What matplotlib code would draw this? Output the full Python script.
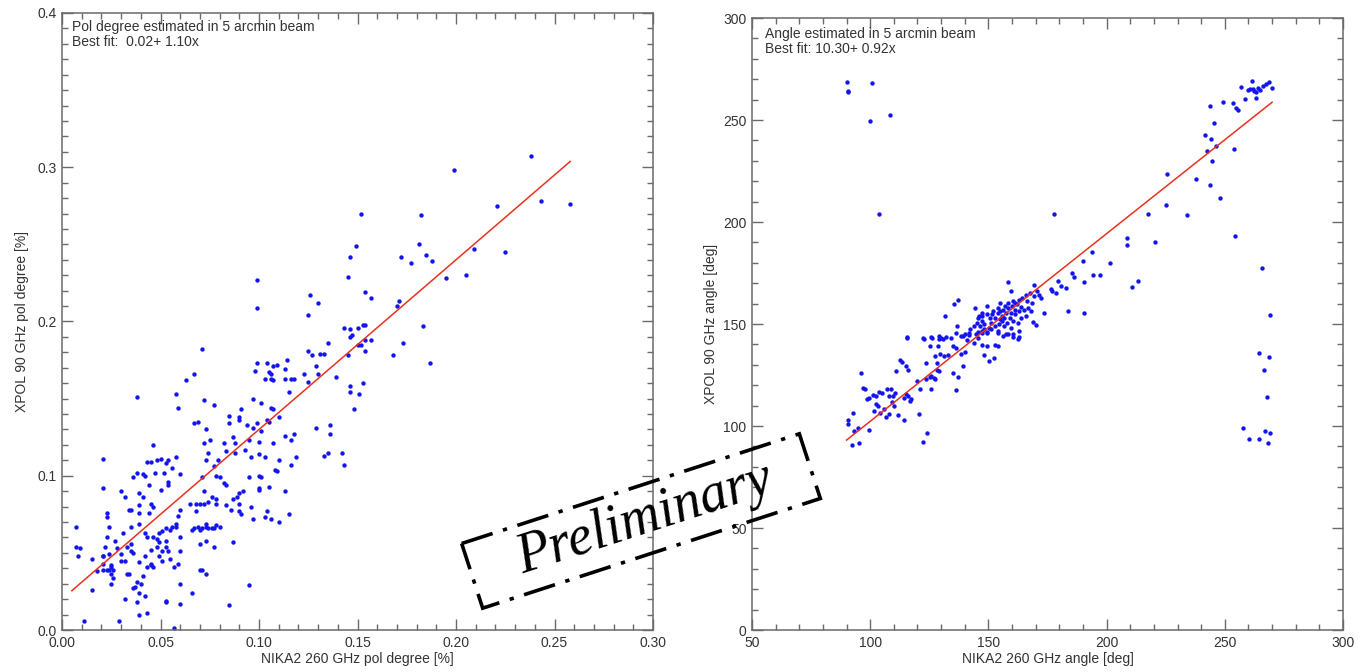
import matplotlib
matplotlib.use("Agg")
import matplotlib.pyplot as plt
from matplotlib.ticker import MultipleLocator, FormatStrFormatter
from matplotlib.patches import Polygon
import numpy as np

plt.rcParams['font.family'] = ['Liberation Sans', 'DejaVu Sans']

# polarisation degree: (NIKA2 260 GHz, XPOL 90 GHz)
pol_points = [
    (.238, .307), (.199, .298), (.243, .278), (.258, .276), (.221, .275), (.152, .270),
    (.182, .269), (.225, .245), (.209, .247), (.181, .250), (.149, .249), (.185, .243),
    (.188, .239), (.172, .242), (.177, .238), (.146, .242), (.195, .228), (.205, .230),
    (.099, .227), (.145, .229), (.126, .217), (.130, .212), (.125, .204), (.099, .209),
    (.154, .219), (.157, .215), (.171, .213), (.170, .210), (.154, .198), (.153, .198),
    (.183, .197), (.143, .196), (.146, .195), (.150, .196), (.146, .190), (.154, .188),
    (.147, .191), (.150, .185), (.157, .188), (.154, .181), (.173, .186), (.168, .178),
    (.187, .173), (.071, .182), (.099, .173), (.098, .168), (.104, .173), (.107, .171),
    (.109, .172), (.105, .167), (.106, .166), (.106, .163), (.103, .163), (.107, .162),
    (.113, .169), (.114, .175), (.113, .163), (.116, .163), (.118, .163), (.123, .166),
    (.125, .181), (.127, .178), (.131, .179), (.133, .179), (.135, .186), (.129, .171),
    (.130, .166), (.125, .161), (.139, .164), (.145, .178), (.152, .185), (.146, .158),
    (.146, .154), (.153, .160), (.151, .153), (.148, .143), (.067, .166), (.063, .162),
    (.058, .153), (.059, .144), (.038, .151), (.115, .154), (.097, .150), (.101, .147),
    (.106, .144), (.107, .143), (.072, .149), (.077, .146), (.091, .143), (.090, .138),
    (.085, .139), (.085, .134), (.090, .136), (.094, .133), (.099, .134), (.097, .131),
    (.101, .129), (.104, .136), (.105, .135), (.110, .138), (.129, .131), (.136, .133),
    (.136, .127), (.118, .127), (.116, .123), (.113, .126), (.067, .134), (.069, .135),
    (.073, .130), (.075, .123), (.082, .121), (.088, .121), (.087, .125), (.095, .123),
    (.100, .122), (.107, .121), (.133, .113), (.135, .115), (.142, .115), (.143, .107),
    (.119, .112), (.116, .107), (.110, .110), (.103, .112), (.100, .114), (.096, .112),
    (.093, .117), (.088, .115), (.083, .116), (.079, .110), (.073, .110), (.074, .115),
    (.072, .121), (.046, .120), (.043, .109), (.045, .109), (.048, .110), (.050, .111),
    (.053, .108), (.054, .110), (.058, .112), (.056, .105), (.052, .102), (.054, .096),
    (.054, .094), (.060, .101), (.047, .102), (.041, .101), (.042, .100), (.038, .102),
    (.044, .094), (.050, .091), (.036, .099), (.039, .089), (.039, .081), (.039, .076),
    (.045, .082), (.044, .076), (.046, .080), (.021, .111), (.021, .092), (.030, .090),
    (.032, .086), (.035, .078), (.041, .086), (.071, .099), (.078, .100), (.080, .099),
    (.082, .095), (.083, .094), (.077, .106), (.072, .090), (.076, .086), (.078, .085),
    (.074, .083), (.078, .082), (.083, .081), (.089, .086), (.090, .089), (.092, .090),
    (.095, .099), (.100, .100), (.101, .099), (.100, .092), (.100, .091), (.105, .093),
    (.108, .104), (.109, .103), (.113, .090), (.115, .075), (.104, .077), (.103, .073),
    (.106, .072), (.110, .070), (.097, .072), (.090, .077), (.091, .075), (.090, .082),
    (.086, .078), (.087, .085), (.096, .080), (.072, .082), (.070, .082), (.068, .082),
    (.065, .082), (.068, .077), (.066, .065), (.067, .066), (.069, .067), (.070, .065),
    (.071, .066), (.073, .067), (.073, .069), (.074, .066), (.076, .066), (.078, .068),
    (.080, .067), (.077, .054), (.070, .056), (.060, .078), (.059, .074), (.058, .069),
    (.058, .067), (.060, .060), (.056, .067), (.055, .065), (.053, .066), (.051, .064),
    (.053, .058), (.053, .054), (.054, .051), (.051, .051), (.048, .059), (.049, .057),
    (.046, .060), (.049, .063), (.042, .063), (.043, .060), (.039, .069), (.035, .067),
    (.034, .078), (.035, .056), (.036, .050), (.033, .054), (.031, .063), (.030, .049),
    (.028, .053), (.024, .049), (.027, .058), (.023, .060), (.022, .054), (.023, .073),
    (.023, .076), (.024, .067), (.021, .048), (.021, .039), (.024, .039), (.025, .041),
    (.026, .039), (.026, .034), (.025, .036), (.025, .030), (.025, .042), (.023, .039),
    (.018, .038), (.021, .043), (.030, .045), (.032, .045), (.033, .036), (.034, .036),
    (.035, .051), (.039, .044), (.042, .048), (.041, .035), (.038, .031), (.036, .027),
    (.037, .028), (.039, .024), (.042, .022), (.040, .030), (.043, .041), (.045, .052),
    (.045, .043), (.045, .042), (.046, .041), (.048, .054), (.049, .048), (.051, .045),
    (.055, .046), (.057, .041), (.060, .051), (.059, .043), (.060, .030), (.060, .017),
    (.053, .018), (.053, .019), (.057, .001), (.032, .020), (.038, .018), (.029, .006),
    (.011, .006), (.015, .026), (.008, .048), (.009, .053), (.007, .054), (.007, .067),
    (.015, .046), (.021, .048), (.039, .010), (.043, .011), (.066, .024), (.070, .039),
    (.071, .039), (.073, .036), (.085, .016), (.095, .029), (.087, .057), (.077, .066),
    (.073, .058),
]

# polarisation angle in deg: (NIKA2 260 GHz, XPOL 90 GHz)
angle_points = [
    (90.1, 268.7), (90.4, 263.5), (90.8, 264.1), (100.7, 268.3), (99.8, 249.4),
    (108.3, 252.3), (103.9, 203.9), (177.9, 203.9), (225.7, 223.5), (225.2, 208.1),
    (217.6, 203.9), (234.2, 203.4), (237.9, 221.3), (243.9, 218.3), (247.8, 212.0),
    (253.9, 235.9), (254.2, 192.9), (241.7, 242.7), (244.1, 240.7), (242.3, 234.7),
    (244.5, 229.9), (245.4, 248.5), (246.3, 237.5), (243.8, 256.8), (249.3, 258.8),
    (253.3, 258.3), (254.6, 256.0), (255.5, 255.0), (257.0, 266.2), (258.5, 260.2),
    (259.7, 264.8), (261.6, 269.0), (260.7, 265.4), (262.3, 264.3), (263.2, 261.0),
    (264.2, 265.6), (265.1, 264.8), (266.0, 266.7), (267.6, 267.5), (268.8, 268.7),
    (269.9, 265.9), (261.8, 265.1), (263.2, 263.5), (208.5, 192.0), (208.5, 188.8),
    (220.4, 190.4), (213.4, 170.9), (210.7, 168.2), (201.5, 179.9), (193.9, 185.2),
    (189.9, 180.7), (194.1, 174.2), (197.4, 174.2), (190.6, 170.5), (185.5, 175.0),
    (186.4, 172.9), (183.6, 156.3), (190.3, 155.5), (173.7, 155.2), (169.5, 169.3),
    (168.9, 151.0), (170.0, 149.4), (178.7, 165.3), (180.5, 168.8), (179.6, 170.9),
    (176.5, 167.4), (176.8, 166.1), (182.9, 167.7), (171.3, 164.4), (172.2, 162.8),
    (168.6, 160.4), (166.2, 161.2), (164.0, 158.3), (162.1, 159.6), (158.1, 170.5),
    (159.4, 166.1), (160.3, 161.2), (158.5, 160.4), (154.8, 160.4), (153.9, 158.0),
    (152.0, 156.3), (149.3, 158.8), (147.4, 155.5), (146.0, 153.9), (144.5, 158.0),
    (145.6, 153.1), (147.4, 151.5), (148.3, 149.8), (151.1, 150.6), (152.9, 153.1),
    (155.7, 153.9), (157.5, 155.5), (159.0, 153.1), (161.2, 154.7), (163.1, 156.3),
    (164.9, 157.1), (166.7, 158.0), (168.0, 156.3), (165.8, 153.9), (162.5, 150.6),
    (159.4, 148.2), (156.6, 149.0), (153.9, 146.6), (151.1, 147.4), (149.3, 145.8),
    (147.1, 146.6), (144.7, 145.0), (141.9, 145.8), (137.3, 162.0), (135.5, 159.6),
    (131.6, 153.9), (136.9, 149.0), (134.2, 143.3), (130.9, 142.5), (129.0, 142.5),
    (126.1, 143.3), (122.6, 142.5), (115.6, 143.0), (163.1, 146.6), (162.7, 142.5),
    (160.3, 145.0), (157.5, 145.0), (115.6, 143.6), (122.2, 143.1), (125.9, 143.6),
    (129.0, 144.2), (130.0, 143.1), (132.0, 143.6), (136.4, 145.5), (139.2, 143.9),
    (141.9, 144.7), (145.6, 146.3), (147.4, 145.5), (149.3, 146.3), (154.0, 145.5),
    (156.3, 143.9), (160.3, 143.6), (163.1, 143.6), (158.5, 145.2), (143.8, 140.7),
    (147.4, 139.8), (149.3, 139.0), (145.6, 143.1), (141.0, 142.3), (152.9, 139.8),
    (154.0, 139.3), (150.4, 131.7), (152.4, 133.3), (148.3, 135.0), (125.4, 139.3),
    (128.5, 139.0), (131.4, 134.1), (129.6, 135.4), (127.2, 134.1), (123.5, 130.9),
    (128.1, 130.9), (132.7, 135.0), (134.9, 139.0), (136.4, 138.2), (138.2, 135.4),
    (140.1, 136.1), (139.2, 129.3), (134.9, 126.0), (137.3, 123.9), (136.4, 117.6),
    (125.9, 124.4), (126.8, 123.6), (127.6, 123.1), (125.4, 124.1), (123.5, 122.8),
    (128.1, 127.6), (129.0, 126.8), (119.9, 122.0), (121.0, 117.9), (116.2, 127.3),
    (115.3, 129.6), (113.6, 131.2), (112.5, 132.2), (111.0, 126.8), (116.2, 114.6),
    (116.9, 112.2), (114.3, 113.5), (115.1, 115.8), (117.3, 113.0), (110.3, 116.3),
    (109.7, 114.6), (109.4, 111.7), (110.1, 109.8), (107.0, 118.2), (108.8, 117.9),
    (104.8, 116.3), (103.7, 116.9), (102.4, 114.6), (101.1, 115.4), (99.6, 113.8),
    (98.7, 113.0), (97.8, 117.9), (96.0, 126.0), (96.9, 118.7), (102.4, 110.6),
    (103.3, 109.8), (106.6, 104.6), (107.9, 105.7), (111.6, 105.2), (114.3, 102.9),
    (105.9, 108.5), (107.9, 114.6), (104.2, 106.5), (101.5, 107.3), (92.6, 106.5),
    (90.4, 102.8), (90.8, 100.8), (93.2, 97.6), (94.7, 98.9), (99.6, 98.0),
    (92.3, 90.6), (95.4, 91.9), (124.1, 96.4), (122.2, 92.2), (120.8, 105.7),
    (125.9, 118.2), (264.3, 135.8), (268.8, 133.8), (266.4, 127.6), (267.8, 114.1),
    (257.9, 99.2), (260.3, 93.5), (264.3, 93.5), (266.9, 97.6), (268.4, 91.9),
    (269.1, 96.7), (265.6, 177.4), (269.1, 154.2),
    (147.4, 153.9), (149.6, 154.7), (150.7, 153.1), (151.5, 154.7), (153.9, 155.5),
    (155.1, 156.3), (156.3, 157.1), (157.0, 158.8), (158.5, 158.0), (159.9, 158.8),
    (161.2, 160.4), (163.1, 162.0), (164.3, 162.8), (165.8, 164.4), (167.6, 165.3),
    (169.1, 163.6), (170.4, 166.1), (164.0, 153.1), (160.3, 151.5), (157.9, 150.6),
    (155.7, 151.5), (154.4, 149.8), (152.6, 149.0), (150.2, 148.2), (148.3, 147.4),
    (146.5, 149.0), (145.2, 150.6), (143.8, 149.0), (142.3, 147.4), (140.1, 145.0),
    (138.2, 144.2), (161.2, 157.1), (159.4, 155.5), (156.6, 153.1), (154.8, 152.3),
]

# best-fit lines: intercept, slope, x range
pol_fit = (0.02, 1.10, 0.005, 0.258)
angle_fit = (10.30, 0.92, 90.0, 270.0)

pol_x, pol_y = np.array(pol_points).T
ang_x, ang_y = np.array(angle_points).T

W, H = 1359, 672
fig = plt.figure(figsize=(W / 100, H / 100), dpi=100)

axis_grey = '#6a6a6a'
text_grey = '#333333'


def style_axes(ax, xmaj, xmin, ymaj, ymin, xfmt, yfmt):
    ax.xaxis.set_major_locator(MultipleLocator(xmaj))
    ax.xaxis.set_minor_locator(MultipleLocator(xmin))
    ax.yaxis.set_major_locator(MultipleLocator(ymaj))
    ax.yaxis.set_minor_locator(MultipleLocator(ymin))
    ax.xaxis.set_major_formatter(FormatStrFormatter(xfmt))
    ax.yaxis.set_major_formatter(FormatStrFormatter(yfmt))
    ax.tick_params(which='both', direction='in', top=True, right=True,
                   color=axis_grey, width=1.0, labelsize=10, labelcolor=text_grey)
    ax.tick_params(which='major', length=8, pad=4)
    ax.tick_params(which='minor', length=4)
    for sp in ax.spines.values():
        sp.set_color(axis_grey)
        sp.set_linewidth(1.1)


def draw_fit(ax, fit):
    a, b, x0, x1 = fit
    xs = np.array([x0, x1])
    ax.plot(xs, a + b * xs, color='#e8321e', lw=1.1, zorder=3)


# left: polarisation degree
ax1 = fig.add_axes([62 / W, 42 / H, 591 / W, 617 / H])
ax1.scatter(pol_x, pol_y, s=10, color='#1414f0', linewidths=0, zorder=2)
draw_fit(ax1, pol_fit)
ax1.set_xlim(0, 0.3)
ax1.set_ylim(0, 0.4)
style_axes(ax1, 0.05, 0.01, 0.1, 0.01, '%.2f', '%.1f')
ax1.set_xlabel('NIKA2 260 GHz pol degree [%]', fontsize=10, color=text_grey, labelpad=2)
ax1.set_ylabel('XPOL 90 GHz pol degree [%]', fontsize=10, color=text_grey, labelpad=6)
ax1.text(0.017, 0.988, 'Pol degree estimated in 5 arcmin beam\nBest fit:  0.02+ 1.10x',
         transform=ax1.transAxes, ha='left', va='top', fontsize=10,
         color=text_grey, linespacing=1.05)

# right: polarisation angle
ax2 = fig.add_axes([752 / W, 42 / H, 591 / W, 612 / H])
ax2.scatter(ang_x, ang_y, s=10, color='#1414f0', linewidths=0, zorder=2)
draw_fit(ax2, angle_fit)
ax2.set_xlim(50, 300)
ax2.set_ylim(0, 300)
style_axes(ax2, 50, 10, 50, 10, '%d', '%d')
ax2.set_xlabel('NIKA2 260 GHz angle [deg]', fontsize=10, color=text_grey, labelpad=2)
ax2.set_ylabel('XPOL 90 GHz angle [deg]', fontsize=10, color=text_grey, labelpad=4)
ax2.text(0.022, 0.985, 'Angle estimated in 5 arcmin beam\nBest fit: 10.30+ 0.92x',
         transform=ax2.transAxes, ha='left', va='top', fontsize=10,
         color=text_grey, linespacing=1.05)

# "Preliminary" stamp on a pixel-space overlay
ov = fig.add_axes([0, 0, 1, 1], zorder=10)
ov.set_xlim(0, W)
ov.set_ylim(H, 0)
ov.axis('off')
ov.patch.set_alpha(0)

cx, cy, bw, bh, ang = 641, 521, 355, 68, 18
t = np.deg2rad(ang)
u = np.array([np.cos(t), -np.sin(t)])
v = np.array([np.sin(t), np.cos(t)])
c = np.array([cx, cy])
corners = [c - u * bw / 2 - v * bh / 2, c + u * bw / 2 - v * bh / 2,
           c + u * bw / 2 + v * bh / 2, c - u * bw / 2 + v * bh / 2]
ov.add_patch(Polygon(corners, closed=True, fill=False, edgecolor='black', lw=2.6,
                     linestyle=(0, (9, 3, 1.2, 3)), capstyle='butt'))
ov.text(cx + 4, cy - 2, 'Preliminary', rotation=ang, rotation_mode='anchor',
        ha='center', va='center', fontsize=40, family='Liberation Serif',
        style='italic', color='black')

fig.savefig('out.png', dpi=100)
